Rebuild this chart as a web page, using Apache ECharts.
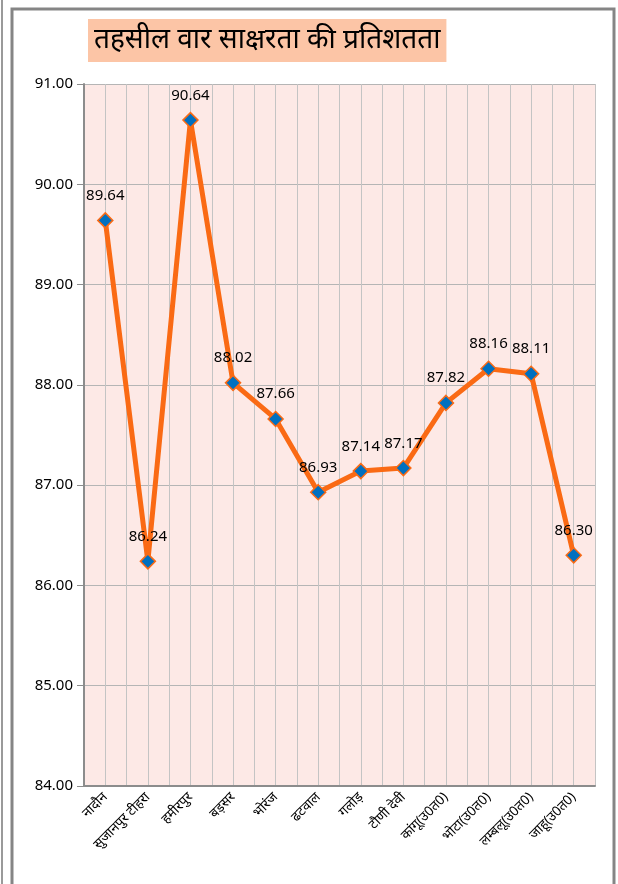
<!DOCTYPE html>
<html>
<head>
<meta charset="utf-8">
<script src="https://cdn.jsdelivr.net/npm/echarts@6/dist/echarts.min.js"></script>
<style>
html, body { margin: 0; padding: 0; background: #fff; }
#chart { width: 618px; height: 884px; }
</style>
</head>
<body>
<div id="chart"></div>
<script>
// तहसील वार साक्षरता
const tehsils = ['नादौन', 'सुजानपुर टीहरा', 'हमीरपुर', 'बड़सर', 'भोरंज', 'ढटवाल', 'गलोड़', 'टौणी देवी', 'कांगू(उ0त0)', 'भोटा(उ0त0)', 'लम्बलू(उ0त0)', 'जाहू(उ0त0)'];
const literacy = [89.64, 86.24, 90.64, 88.02, 87.66, 86.93, 87.14, 87.17, 87.82, 88.16, 88.11, 86.30];
const yMin = 84, yMax = 91, yStep = 1;

const font = '"Noto Sans", "Liberation Sans", sans-serif';
let chart = echarts.init(document.getElementById('chart'));

let option = {
    animation: false,
    textStyle: { fontFamily: font },
    title: {
        text: 'तहसील वार साक्षरता की प्रतिशतता',
        left: 88,
        top: 19,
        backgroundColor: '#fcc5a6',
        padding: [7, 6, 8, 6],
        textStyle: { fontSize: 28, fontWeight: 'normal', color: '#000', fontFamily: font }
    },
    graphic: [
        // outer frame
        { type: 'polyline', shape: { points: [[12, 884], [12, 9], [614, 9], [614, 884]] }, style: { stroke: '#858585', lineWidth: 3, fill: null } },
        { type: 'line', shape: { x1: 2, y1: 0, x2: 2, y2: 884 }, style: { stroke: '#9a9a9a', lineWidth: 2 } }
    ],
    grid: {
        left: 84, right: 23, top: 84, bottom: 98,
        show: true, backgroundColor: '#fde9e6', borderWidth: 0
    },
    xAxis: [
        {
            type: 'category',
            data: tehsils,
            boundaryGap: true,
            axisLine: { lineStyle: { color: '#8c8c8c', width: 2 } },
            axisTick: { length: 5, lineStyle: { color: '#8c8c8c' } },
            axisLabel: { rotate: 45, color: '#000', fontSize: 13.5, margin: 9, interval: 0 },
            splitLine: { show: false }
        },
        {
            // half-category grid lines
            type: 'value', min: 0, max: tehsils.length * 2, interval: 1,
            position: 'bottom', show: true,
            axisLine: { show: false }, axisTick: { show: false }, axisLabel: { show: false },
            splitLine: { show: true, lineStyle: { color: '#c4c4c4', width: 1 } }
        }
    ],
    yAxis: {
        type: 'value',
        min: yMin, max: yMax, interval: yStep,
        axisLine: { show: true, lineStyle: { color: '#8c8c8c', width: 2 } },
        axisTick: { show: true, length: 7, lineStyle: { color: '#8c8c8c' } },
        axisLabel: { color: '#000', fontSize: 15, margin: 11, formatter: v => v.toFixed(2) },
        splitLine: { lineStyle: { color: '#b5b5b5', width: 1 } }
    },
    series: [
        {
            type: 'line',
            xAxisIndex: 0,
            data: literacy,
            symbol: 'diamond',
            symbolSize: 15,
            lineStyle: { color: '#fa6a14', width: 5 },
            itemStyle: { color: '#0070c0', borderColor: '#fa6a14', borderWidth: 1.5 },
            label: {
                show: true, position: 'top', distance: 9,
                color: '#000', fontSize: 15,
                formatter: p => p.value.toFixed(2)
            },
            z: 5
        }
    ]
};
chart.setOption(option, true);
</script>
</body>
</html>
